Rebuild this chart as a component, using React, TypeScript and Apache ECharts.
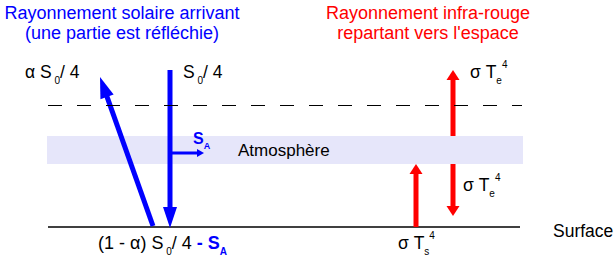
import React, { useEffect, useRef } from "react";
import * as echarts from "echarts";

// Diagram coordinates (hidden cartesian, 1 unit = 1 px)
const blueMainArrows = [
  [170, 70, 170, 228],
  [153, 226, 100, 77],
];
const blueSmallArrows = [[170, 153, 204, 153]];
const redArrows = [
  [453, 136, 453, 70],
  [416, 227, 416, 164],
  [453, 164, 453, 216],
];
const dashedRule = [[48, 105.5, 522, 105.5]];
const surfaceRule = [[48, 227, 520, 227]];
const atmosphereBand = [[47, 136, 523, 164]];

const titleBlue = ["Rayonnement solaire arrivant", "(une partie est réfléchie)"];
const titleRed = ["Rayonnement infra-rouge", "repartant vers l'espace"];
const labelAtmos = "Atmosphère";
const labelSurface = "Surface";

const BLUE = "#0000ff";
const RED = "#ff0000";
const FONT = "Liberation Sans, Arial, sans-serif";

function arrowRenderer(color: string, lw: number, headLen: number, headW: number) {
  return (params: any, api: any) => {
    const p1 = api.coord([api.value(0), api.value(1)]);
    const p2 = api.coord([api.value(2), api.value(3)]);
    const dx = p2[0] - p1[0];
    const dy = p2[1] - p1[1];
    const len = Math.hypot(dx, dy);
    const ux = dx / len;
    const uy = dy / len;
    const bx = p2[0] - ux * headLen;
    const by = p2[1] - uy * headLen;
    const nx = -uy;
    const ny = ux;
    const hw = headW / 2;
    return {
      type: "group",
      children: [
        {
          type: "line",
          shape: { x1: p1[0], y1: p1[1], x2: bx + ux, y2: by + uy },
          style: { stroke: color, lineWidth: lw },
        },
        {
          type: "polygon",
          shape: {
            points: [
              [p2[0], p2[1]],
              [bx + nx * hw, by + ny * hw],
              [bx - nx * hw, by - ny * hw],
            ],
          },
          style: { fill: color },
        },
      ],
    };
  };
}

function ruleRenderer(lw: number, dash: number[] | null) {
  return (params: any, api: any) => {
    const p1 = api.coord([api.value(0), api.value(1)]);
    const p2 = api.coord([api.value(2), api.value(3)]);
    return {
      type: "line",
      shape: { x1: p1[0], y1: p1[1], x2: p2[0], y2: p2[1] },
      style: { stroke: "#000", lineWidth: lw, lineDash: dash || undefined },
    };
  };
}

function bandRenderer(params: any, api: any) {
  const p1 = api.coord([api.value(0), api.value(1)]);
  const p2 = api.coord([api.value(2), api.value(3)]);
  return {
    type: "rect",
    shape: { x: p1[0], y: p1[1], width: p2[0] - p1[0], height: p2[1] - p1[1] },
    style: { fill: "#e6e6fa" },
  };
}

const richBase = (size: number) => ({
  m: { fontSize: size, fontFamily: FONT, lineHeight: 26, fill: "#000" },
  sub: { fontSize: 10, fontFamily: FONT, lineHeight: 10, verticalAlign: "bottom", fill: "#000" },
  sup: { fontSize: 10, fontFamily: FONT, lineHeight: 10, verticalAlign: "top", fill: "#000" },
  bm: { fontSize: size, fontFamily: FONT, fontWeight: "bold", lineHeight: 26, fill: BLUE },
  bsub: { fontSize: 10, fontFamily: FONT, fontWeight: "bold", lineHeight: 10, verticalAlign: "bottom", fill: BLUE },
});

function richText(text: string, x: number, y: number, size = 17.5) {
  return {
    type: "text",
    x,
    y,
    z: 10,
    style: {
      text,
      x: 0,
      y: 0,
      align: "left",
      verticalAlign: "middle",
      rich: richBase(size),
    },
  };
}

export default function App() {
  const ref = useRef<HTMLDivElement>(null);
  useEffect(() => {
    if (!ref.current) return;
    const chart = echarts.init(ref.current, null, { renderer: "svg" });
    chart.setOption({
      animation: false,
      grid: { left: 0, right: 0, top: 0, bottom: 0 },
      xAxis: { type: "value", min: 0, max: 616, show: false },
      yAxis: { type: "value", min: 0, max: 257, inverse: true, show: false },
      series: [
        { type: "custom", renderItem: bandRenderer, data: atmosphereBand, z: 1, silent: true },
        { type: "custom", renderItem: ruleRenderer(1.6, null), data: surfaceRule, z: 2, silent: true },
        { type: "custom", renderItem: arrowRenderer(BLUE, 5, 21, 14), data: blueMainArrows, z: 3, silent: true },
        { type: "custom", renderItem: arrowRenderer(BLUE, 3, 7, 8), data: blueSmallArrows, z: 3, silent: true },
        { type: "custom", renderItem: arrowRenderer(RED, 5, 10, 13), data: redArrows, z: 3, silent: true },
        { type: "custom", renderItem: ruleRenderer(1, [14, 15]), data: dashedRule, z: 4, silent: true },
      ],
      graphic: [
        {
          type: "text",
          x: 122,
          y: 23,
          style: {
            text: titleBlue.join("\n"),
            align: "center",
            verticalAlign: "middle",
            fontSize: 18,
            fontFamily: FONT,
            lineHeight: 20,
            fill: BLUE,
          },
        },
        {
          type: "text",
          x: 428,
          y: 23,
          style: {
            text: titleRed.join("\n"),
            align: "center",
            verticalAlign: "middle",
            fontSize: 18,
            fontFamily: FONT,
            lineHeight: 20,
            fill: RED,
          },
        },
        richText("{m|α S}{sub| 0}{m|/ 4}", 25, 72),
        richText("{m|S}{sub| 0}{m|/ 4}", 183, 72),
        richText("{m|σ T}{sub|e}{sup|4}", 470, 72),
        richText("{m|σ T}{sub|e}{sup|4}", 463, 185),
        richText("{m|σ T}{sub|s}{sup|4}", 398, 243),
        richText("{m|(1 - α) S}{sub| 0}{m|/ 4 }{bm|- S}{bsub|A}", 98, 243, 18),
        {
          type: "text",
          x: 193,
          y: 138,
          z: 10,
          style: {
            text: "{bm|S}{bsub|A}",
            align: "left",
            verticalAlign: "middle",
            rich: {
              bm: { fontSize: 16, fontFamily: FONT, fontWeight: "bold", lineHeight: 24, fill: BLUE },
              bsub: { fontSize: 9, fontFamily: FONT, fontWeight: "bold", lineHeight: 9, verticalAlign: "bottom", fill: BLUE },
            },
          },
        },
        {
          type: "text",
          x: 238,
          y: 150,
          z: 10,
          style: { text: labelAtmos, align: "left", verticalAlign: "middle", fontSize: 17, fontFamily: FONT, fill: "#000" },
        },
        {
          type: "text",
          x: 553,
          y: 231,
          z: 10,
          style: { text: labelSurface, align: "left", verticalAlign: "middle", fontSize: 17.5, fontFamily: FONT, fill: "#000" },
        },
      ],
    });
    return () => chart.dispose();
  }, []);
  return (
    <div
      ref={ref}
      style={{ position: "absolute", left: 0, top: 0, width: 616, height: 257 }}
    />
  );
}
